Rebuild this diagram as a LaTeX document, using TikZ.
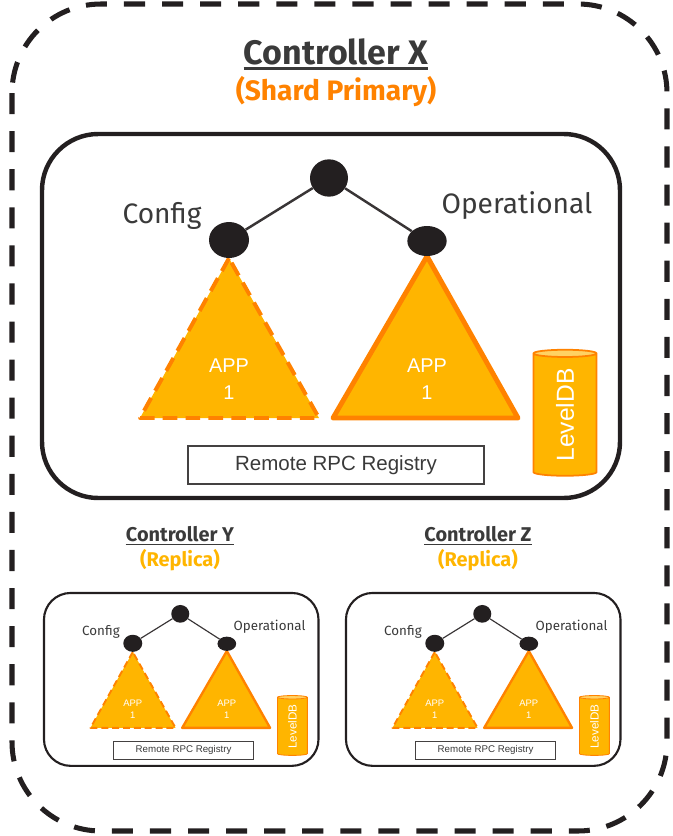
\documentclass[tikz,border=0pt]{standalone}
\usepackage{fontspec}
\setmainfont{Liberation Sans}
\newfontfamily\hpfont{Fira Sans}
\usetikzlibrary{shapes.geometric, backgrounds}

\definecolor{ink}{HTML}{231F20}
\definecolor{txtgray}{HTML}{3A3A3A}
\definecolor{hporange}{HTML}{FF8200}
\definecolor{amber}{HTML}{FFB500}
\definecolor{ambertop}{HTML}{FFD263}

% one controller box: #1 name prefix, #2 top left corner, #3 scale
\newcommand{\ctrlpanel}[3]{%
  \pgfmathsetmacro{\psc}{#3}%
  \pgfmathsetmacro{\don}{12.5*#3}%
  \pgfmathsetmacro{\doff}{7*#3}%
  \begin{scope}[shift={#2}, scale=#3, transform shape]
    % frame
    \draw[ink, line width=\psc*3.8pt, rounded corners=\psc*48pt] (2,2) rectangle (580,366);
    % data tree
    \node[dot, minimum width=1.14cm, minimum height=1.12cm] (#1root) at (289,46) {};
    \node[dot, minimum width=1.2cm, minimum height=1.08cm] (#1cfg) at (189,108) {};
    \node[dot, minimum width=1.18cm, minimum height=0.9cm] (#1op) at (387,109) {};
    \draw[branch, line width=\psc*2.1pt] (#1root) -- (#1cfg);
    \draw[branch, line width=\psc*2.1pt] (#1root) -- (#1op);
    \node[lbl, anchor=base] (#1cfglbl) at (122,91) {Config};
    \node[lbl, anchor=base] (#1oplbl) at (477,81) {Operational};
    % subtrees
    \begin{scope}[on background layer]
      \draw[tri, line width=\psc*3.4pt, dash pattern=on \don pt off \doff pt] (#1cfg.south) -- (100,286) -- (279,286) -- cycle;
      \draw[tri, line width=\psc*4.2pt] (#1op.south) -- (293,286) -- (478,286) -- cycle;
    \end{scope}
    \node[app] (#1cfgapp) at (189,247) {APP\\1};
    \node[app] (#1opapp) at (387,247) {APP\\1};
    % store and registry
    \node[db, line width=\psc*1.5pt] (#1db) at (525,283) {\rotatebox{90}{LevelDB}};
    \node[reg, line width=\psc*1.7pt] (#1reg) at (296,333) {Remote RPC Registry};
  \end{scope}}

\begin{document}
\begin{tikzpicture}[
  x=0.03cm, y=-0.03cm,
  outer/.style={draw=ink, line width=4.3pt, rounded corners=76pt, dash pattern=on 18pt off 14.5pt},
  title/.style={font=\hpfont\bfseries\fontsize{29}{33}\selectfont, text=txtgray, inner sep=0pt},
  subtitle/.style={font=\hpfont\bfseries\fontsize{24}{28}\selectfont, inner sep=0pt},
  smalltitle/.style={font=\hpfont\bfseries\fontsize{17}{20}\selectfont, text=txtgray, inner sep=0pt},
  smallsub/.style={font=\hpfont\bfseries\fontsize{17}{20}\selectfont, text=amber, inner sep=0pt},
  uline/.style={draw=txtgray},
  dot/.style={ellipse, fill=ink, inner sep=0pt},
  branch/.style={draw=ink!90},
  lbl/.style={font=\hpfont\fontsize{24}{28}\selectfont, text=txtgray, inner sep=0pt},
  tri/.style={draw=hporange, fill=amber, line join=round},
  app/.style={font=\fontsize{17}{23}\selectfont, text=white, align=center, inner sep=0pt},
  db/.style={cylinder, shape border rotate=90, draw=hporange, cylinder uses custom fill,
    cylinder body fill=amber, cylinder end fill=ambertop, aspect=0.4,
    minimum width=1.89cm, minimum height=3.78cm, inner sep=0pt,
    font=\fontsize{21}{25}\selectfont, text=white},
  reg/.style={draw=ink!85, fill=white, minimum width=8.88cm, minimum height=1.14cm,
    inner sep=0pt, font=\fontsize{17.5}{21}\selectfont, text=txtgray}]

\useasboundingbox (0,0) rectangle (673,836);

% ---------- cluster boundary
\draw[outer] (12,4) rectangle (667,831);

% ---------- shard primary
\node[title, anchor=base] (tX) at (336,64) {Controller X};
\draw[uline, line width=2.6pt] ([yshift=-4pt]tX.base west) -- ([yshift=-4pt]tX.base east);
\node[subtitle, text=hporange, anchor=base] (sX) at (336,100) {(Shard Primary)};
\ctrlpanel{X}{(40,132)}{1}

% ---------- replicas
\node[smalltitle, anchor=base] (tY) at (180,541) {Controller Y};
\draw[uline, line width=1.5pt] ([yshift=-3pt]tY.base west) -- ([yshift=-3pt]tY.base east);
\node[smallsub, anchor=base] (sY) at (180,566) {(Replica)};
\ctrlpanel{Y}{(43,592)}{0.475}

\node[smalltitle, anchor=base] (tZ) at (478,541) {Controller Z};
\draw[uline, line width=1.5pt] ([yshift=-3pt]tZ.base west) -- ([yshift=-3pt]tZ.base east);
\node[smallsub, anchor=base] (sZ) at (478,566) {(Replica)};
\ctrlpanel{Z}{(345,592)}{0.475}
\end{tikzpicture}
\end{document}
